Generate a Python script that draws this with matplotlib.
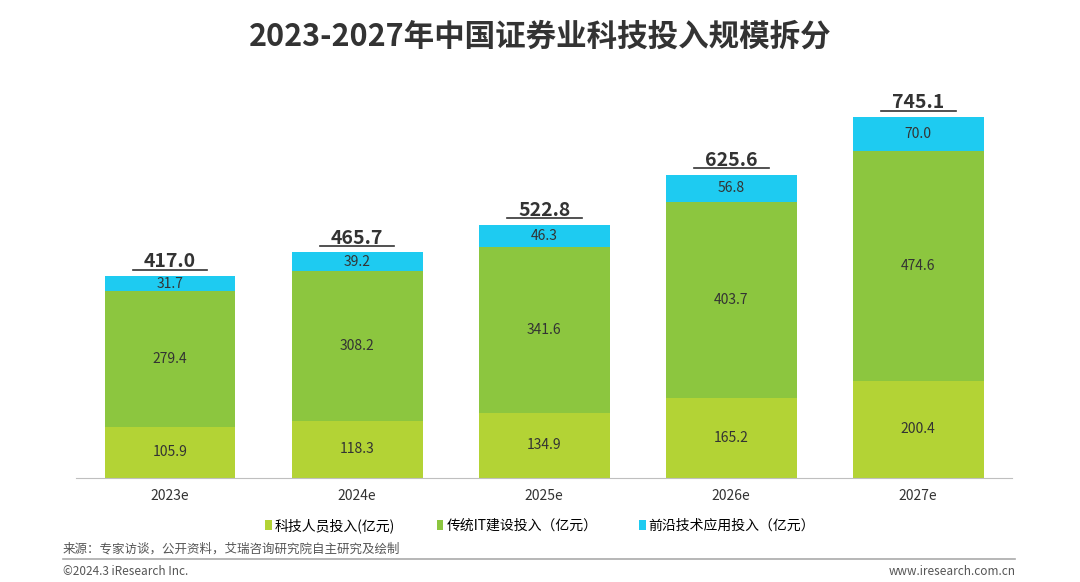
import matplotlib.pyplot as plt

plt.rcParams['font.family'] = ['Noto Sans CJK SC', 'DejaVu Sans']

years = ['2023e', '2024e', '2025e', '2026e', '2027e']
staff = [105.9, 118.3, 134.9, 165.2, 200.4]
it_build = [279.4, 308.2, 341.6, 403.7, 474.6]
frontier = [31.7, 39.2, 46.3, 56.8, 70.0]
totals = [417.0, 465.7, 522.8, 625.6, 745.1]
labels = ['科技人员投入(亿元)', '传统IT建设投入（亿元）', '前沿技术应用投入（亿元）']
colors = ['#b3d335', '#8cc63f', '#1ecbf1']

fig = plt.figure(figsize=(10.8, 5.82), dpi=100)
ax = fig.add_axes([0.0708, 0.1787, 0.866, 0.6838])
x = range(len(years))
w = 0.7
b1 = ax.bar(x, staff, w, color=colors[0], label=labels[0])
b2 = ax.bar(x, it_build, w, bottom=staff, color=colors[1], label=labels[1])
bot3 = [a + b for a, b in zip(staff, it_build)]
b3 = ax.bar(x, frontier, w, bottom=bot3, color=colors[2], label=labels[2])

for i in x:
    top = bot3[i] + frontier[i]
    ax.text(i, staff[i] / 2, f'{staff[i]:.1f}', ha='center', va='center', fontsize=10, color='#333333')
    ax.text(i, staff[i] + it_build[i] / 2, f'{it_build[i]:.1f}', ha='center', va='center', fontsize=10, color='#333333')
    ax.text(i, bot3[i] + frontier[i] / 2, f'{frontier[i]:.1f}', ha='center', va='center', fontsize=10, color='#333333')
    ax.text(i, top + 18, f'{totals[i]:.1f}', ha='center', va='baseline',
            fontsize=14, fontweight='bold', color='#333333')
    ax.plot([i - 0.2, i + 0.2], [top + 13] * 2, color='#333333', lw=1.2)

ax.set_xlim(-0.5, 4.5)
ax.set_ylim(0, 821)
ax.set_yticks([])
for s in ['top', 'right', 'left']:
    ax.spines[s].set_visible(False)
ax.spines['bottom'].set_color('#bfbfbf')
ax.set_xticks(list(x))
ax.set_xticklabels(years, fontsize=10, color='#333333')
ax.tick_params(axis='x', length=0, pad=8)

fig.legend(handles=[b1, b2, b3], labels=labels, loc='center', bbox_to_anchor=(0.5, 0.097),
           ncol=3, frameon=False, fontsize=10, handlelength=0.5, handleheight=0.7,
           handletextpad=0.2, columnspacing=3)

fig.text(0.5, 0.937, '2023-2027年中国证券业科技投入规模拆分', ha='center', va='center',
         fontsize=22, fontweight='bold', color='#333333')
fig.text(0.058, 0.056, '来源：专家访谈，公开资料，艾瑞咨询研究院自主研究及绘制', fontsize=9, color='#555555', va='center')
fig.add_artist(plt.Line2D([0.058, 0.94], [0.04, 0.04], color='#aaaaaa', lw=1.2))
fig.text(0.058, 0.018, '©2024.3 iResearch Inc.', fontsize=8.5, color='#555555', va='center')
fig.text(0.94, 0.018, 'www.iresearch.com.cn', fontsize=8.5, color='#555555', va='center', ha='right')

fig.savefig('out.png', dpi=100)
